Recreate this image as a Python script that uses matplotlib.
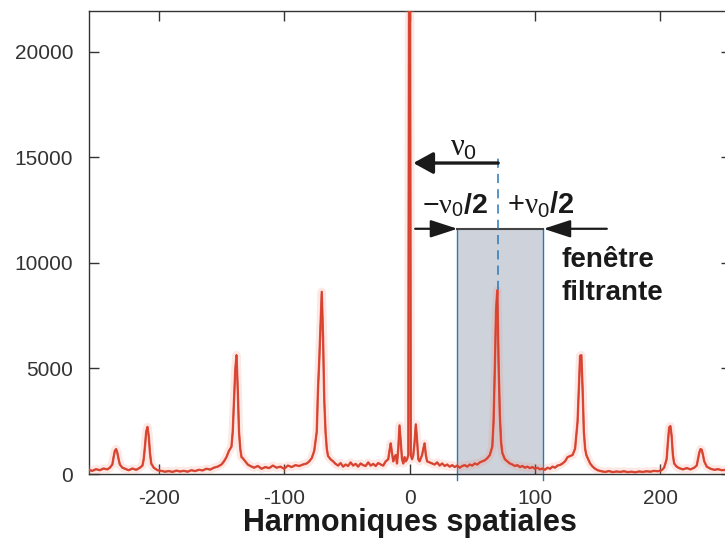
import matplotlib
matplotlib.use("Agg")
import matplotlib.pyplot as plt

plt.rcParams['font.family'] = ['Liberation Sans', 'DejaVu Sans']
plt.rcParams['axes.unicode_minus'] = False
plt.rcParams['mathtext.fontset'] = 'custom'
plt.rcParams['mathtext.rm'] = 'Liberation Sans'
plt.rcParams['mathtext.it'] = 'Liberation Serif'
plt.rcParams['mathtext.bf'] = 'Liberation Sans:bold'

# spectre (harmonique, amplitude)
harm = [-256, -253, -250, -247, -244, -241, -239, -237, -236, -235, -234, -233, -232, -231,
        -229, -227, -224, -221, -218, -215, -213, -212, -211, -210, -209, -208, -207, -206,
        -204, -201, -198, -195, -192, -189, -186, -183, -180, -177, -174, -171, -168, -165,
        -162, -159, -156, -153, -150, -148, -146, -144, -142, -141, -140, -139, -138, -137,
        -136, -135, -134, -133, -131, -129, -127, -124, -121, -118, -115, -112, -109, -106,
        -103, -100, -97, -94, -91, -88, -85, -82, -80, -78, -76, -74, -73, -72, -71, -70,
        -69, -68, -67, -66, -65, -63, -61, -59, -57, -55, -53, -51, -49, -47, -45, -43, -41,
        -39, -37, -35, -33, -31, -29, -27, -25, -23, -21, -19, -17, -16, -15, -14, -13, -12,
        -11, -10, -9, -8, -7, -6, -5, -4, -3, -2, -1, 0, 1, 2, 3, 4, 5, 6, 7, 8, 10, 11, 12,
        13, 14, 16, 18, 20, 22, 24, 26, 28, 30, 32, 34, 36, 38, 40, 42, 44, 46, 48, 50, 52,
        54, 56, 58, 60, 62, 64, 66, 67, 68, 69, 70, 71, 72, 73, 74, 76, 78, 80, 82, 84, 86,
        88, 90, 92, 94, 96, 98, 100, 102, 104, 106, 108, 110, 112, 114, 116, 118, 120, 122,
        124, 126, 128, 130, 132, 134, 135, 136, 137, 138, 139, 140, 141, 142, 144, 146, 148,
        150, 153, 156, 159, 162, 165, 168, 171, 174, 177, 180, 183, 186, 189, 192, 195, 198,
        201, 203, 205, 206, 207, 208, 209, 210, 211, 213, 215, 218, 221, 224, 227, 229, 230,
        231, 232, 233, 234, 235, 237, 240, 243, 246, 249, 252, 255]
ampl = [200, 150, 230, 180, 260, 220, 300, 450, 800, 1100, 1180, 1000, 700, 450,
        300, 250, 180, 260, 200, 300, 400, 700, 1300, 2000, 2230, 1800, 1000, 500,
        300, 180, 150, 110, 140, 100, 160, 120, 150, 110, 180, 140, 200, 170,
        250, 210, 300, 350, 450, 600, 800, 1100, 1300, 2000, 3500, 4900, 5630, 4000,
        2000, 1200, 800, 750, 600, 450, 380, 300, 380, 250, 330, 280, 400, 300,
        350, 250, 400, 330, 420, 380, 450, 500, 600, 750, 1100, 2000, 4000, 5400, 7000, 8630,
        6500, 3500, 2000, 1200, 850, 700, 600, 480, 400, 520, 350, 450, 380, 550, 400, 480, 350,
        500, 420, 380, 550, 400, 480, 380, 520, 450, 400, 600, 700, 1100, 1450, 1000, 600, 800,
        900, 500, 1200, 2300, 1500, 700, 500, 800, 600, 700, 900, 40000, 900, 700, 900, 1500, 2350, 1600, 700, 600, 900, 1200, 1450,
        900, 600, 550, 500, 450, 550, 400, 500, 380, 450, 350, 420, 330, 400, 300, 380, 420, 350, 450, 400, 500,
        450, 550, 600, 650, 750, 900, 1300, 2500, 5000, 7800, 8700, 5200, 2800, 1500, 1000, 700, 600, 500, 450, 380, 420,
        330, 380, 300, 350, 280, 330, 250, 300, 220, 260, 200, 300, 250, 350, 300, 400, 430, 500,
        600, 800, 850, 900, 1200, 2500, 4000, 5600, 5630, 4000, 2000, 1200, 900, 760, 500, 350, 250,
        180, 130, 100, 140, 90, 120, 100, 130, 90, 110, 80, 120, 100, 130, 110, 150, 130,
        180, 300, 700, 1500, 2200, 2270, 1800, 900, 500, 350, 280, 220, 280, 220, 300, 400, 700,
        1000, 1180, 1150, 900, 600, 350, 250, 200, 230, 180, 200, 180]

nu0 = 70.7            # position du pic +1
fen_gauche = 38.2     # bords de la fenetre filtrante
fen_droite = 106.8
fen_haut = 11615
pic_haut = 8700

xticks = [-200, -100, 0, 100, 200]
yticks = [0, 5000, 10000, 15000, 20000]

fig = plt.figure(figsize=(7.25, 5.41), dpi=100)
ax = fig.add_axes([0.1221, 0.1238, 0.8856, 0.8559])

# fenetre filtrante
ax.fill_between([fen_gauche, fen_droite], 0, fen_haut, color='#cdd2db', lw=0, zorder=1)
for xb in (fen_gauche, fen_droite):
    ax.plot([xb, xb], [-300, fen_haut], color='#2a78b8', lw=1, clip_on=False, zorder=2)
ax.plot([fen_gauche, fen_droite], [fen_haut, fen_haut], color='#444444', lw=1.5, zorder=2)

# spectre
ax.plot(harm, ampl, color='#f29a88', lw=6, alpha=0.22, zorder=3)
ax.plot(harm, ampl, color='#6e4a46', lw=1.1, zorder=3)
ax.plot(harm, ampl, color='#e8422c', lw=1.7, alpha=0.85, zorder=4)

# ligne pointillee nu0
ax.plot([nu0, nu0], [pic_haut, 15200], color='#2a78b8', lw=1.1, ls=(0, (6, 4)), zorder=5)

# fleches
ax.annotate('', xy=(3.0, 14729), xytext=(nu0, 14729),
            arrowprops=dict(arrowstyle='-|>,head_length=0.6,head_width=0.33', lw=2.4,
                            color='#1a1a1a', shrinkA=0, shrinkB=0, mutation_scale=20), zorder=6)
ax.annotate('', xy=(fen_gauche, fen_haut), xytext=(4.5, fen_haut),
            arrowprops=dict(arrowstyle='-|>,head_length=0.83,head_width=0.27', lw=1.6,
                            color='#1a1a1a', shrinkA=0, shrinkB=0, mutation_scale=20), zorder=6)
ax.annotate('', xy=(fen_droite, fen_haut), xytext=(157.3, fen_haut),
            arrowprops=dict(arrowstyle='-|>,head_length=0.83,head_width=0.27', lw=1.6,
                            color='#1a1a1a', shrinkA=0, shrinkB=0, mutation_scale=20), zorder=6)

ax.text(42.8, 15486, r'$\nu_0$', fontsize=22, ha='center', va='center', color='#1a1a1a')
ax.text(36.4, 12740, r'$-\nu_0\mathbf{/2}$', fontsize=20.5, ha='center', va='center', color='#1a1a1a')
ax.text(104.9, 12740, r'$+\nu_0\mathbf{/2}$', fontsize=21, ha='center', va='center', color='#1a1a1a')
ax.text(121.4, 10135, 'fenêtre', fontsize=20, fontweight='bold', ha='left', va='center', color='#1a1a1a')
ax.text(121.4, 8572, 'filtrante', fontsize=20, fontweight='bold', ha='left', va='center', color='#1a1a1a')

ax.set_xlim(-256, 256)
ax.set_ylim(0, 21930)
ax.set_xticks(xticks)
ax.set_yticks(yticks)
ax.tick_params(direction='in', length=7, width=1, top=True, right=True,
               labelsize=15, labelcolor='#333333', color='#333333', pad=11)
for sp in ax.spines.values():
    sp.set_color('#333333')
    sp.set_linewidth(1)

ax.set_xlabel('Harmoniques spatiales', fontsize=22, fontweight='bold', color='#1a1a1a', labelpad=0)

fig.savefig('out.png', dpi=100)
